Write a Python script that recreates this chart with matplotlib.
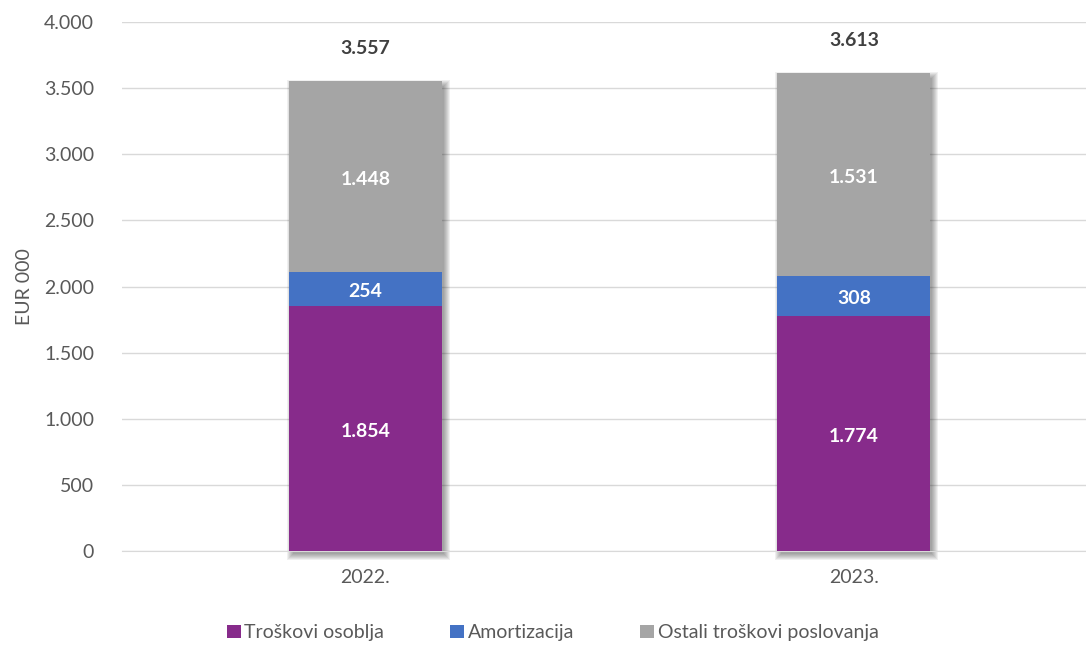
import matplotlib.pyplot as plt
from matplotlib.patches import Rectangle
from matplotlib.ticker import FuncFormatter

plt.rcParams['font.family'] = ['Lato', 'DejaVu Sans']

years = ['2022.', '2023.']
osoblje = [1854, 1774]
amortizacija = [254, 308]
ostali = [1448, 1531]
totals = [3557, 3613]
series = [('Troškovi osoblja', osoblje, '#872B8B'),
          ('Amortizacija', amortizacija, '#4472C4'),
          ('Ostali troškovi poslovanja', ostali, '#A5A5A5')]

def fmt(v):
    return f"{v:,.0f}".replace(',', '.')

fig = plt.figure(figsize=(10.86, 6.48), dpi=100)
ax = fig.add_axes([0.1123, 0.1497, 0.8877, 0.8163])

x = list(range(len(years)))
width = 0.313
px_x = 1 / 488.0
px_y = 4000 / 529.0

# soft shadow behind bars (blurred look from stacked translucent rects)
for xi, t in zip(x, totals):
    for k in range(7):
        ax.add_patch(Rectangle((xi - width / 2 + (k - 1) * -px_x + 3 * px_x, -3 * px_y - k * px_y),
                               width + 2 * k * px_x - 2 * px_x, t + 2 * k * px_y - 2 * px_y,
                               facecolor='black', alpha=0.06, edgecolor='none', zorder=2,
                               clip_on=False))

bottom = [0, 0]
for name, vals, col in series:
    ax.bar(x, vals, width, bottom=bottom, color=col, label=name, zorder=3)
    for xi, b, v in zip(x, bottom, vals):
        ax.text(xi, b + v / 2 - 20, fmt(v), ha='center', va='center', color='white',
                fontsize=14, fontweight='bold', zorder=4)
    bottom = [b + v for b, v in zip(bottom, vals)]

for xi, t in zip(x, totals):
    ax.text(xi, t + 245, fmt(t), ha='center', va='center', color='#404040',
            fontsize=14, fontweight='bold')

ax.set_xlim(-0.498, 1.475)
ax.set_ylim(0, 4000)
ax.set_yticks(range(0, 4001, 500))
ax.yaxis.set_major_formatter(FuncFormatter(lambda v, p: fmt(v)))
ax.set_xticks(x)
ax.set_xticklabels(years)
ax.tick_params(axis='both', length=0, labelsize=14, colors='#595959')
ax.tick_params(axis='y', pad=20)
ax.tick_params(axis='x', pad=13)
ax.grid(axis='y', color='#D9D9D9', linewidth=1, zorder=0)
for s in ['top', 'right', 'left']:
    ax.spines[s].set_visible(False)
ax.spines['bottom'].set_color('#D9D9D9')
ax.set_ylabel('EUR 000', fontsize=14, color='#595959', labelpad=8)

ax.legend(loc='center', bbox_to_anchor=(0.447, -0.155), ncol=3, frameon=False,
          fontsize=14, labelcolor='#595959', handlelength=0.7, handleheight=0.7,
          handletextpad=0.2, columnspacing=3.4)

fig.savefig('out.png', dpi=100)
